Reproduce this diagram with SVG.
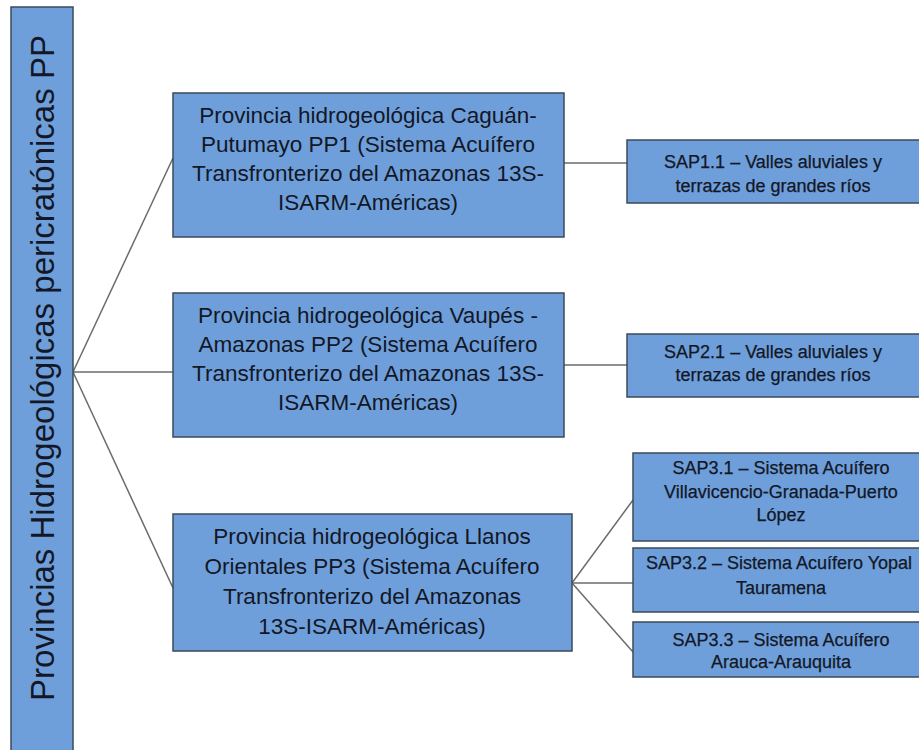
<svg xmlns="http://www.w3.org/2000/svg" width="919" height="750" viewBox="0 0 919 750">
<style>
.box{fill:#6e9fda;stroke:#3c4a5a;stroke-width:1.5}
.t{font-family:"Liberation Sans",Arial,sans-serif;fill:#131726;text-anchor:middle}
.pp{font-size:22.5px}
.sap{font-size:18px;stroke:#131726;stroke-width:0.25}
.root{font-size:33px}
.c{stroke:#6b6b6b;stroke-width:1.5;fill:none}
</style>
<rect width="919" height="750" fill="#ffffff"/>
<g id="connectors">
<line class="c" x1="73" y1="372" x2="173" y2="158"/>
<line class="c" x1="73" y1="372" x2="173" y2="372"/>
<line class="c" x1="73" y1="372" x2="173" y2="588"/>
<line class="c" x1="564" y1="163" x2="627" y2="163"/>
<line class="c" x1="564" y1="365" x2="627" y2="365"/>
<line class="c" x1="572" y1="583" x2="633" y2="500"/>
<line class="c" x1="572" y1="583" x2="633" y2="583"/>
<line class="c" x1="572" y1="583" x2="633" y2="652"/>
</g>
<g id="root">
<rect class="box" x="11" y="7" width="62" height="760"/>
<text class="t root" transform="translate(54,368) rotate(-90)">Provincias Hidrogeológicas pericratónicas PP</text>
</g>
<g id="pp1">
<rect class="box" x="173" y="93" width="391" height="144"/>
<text class="t pp"><tspan x="368" y="123">Provincia hidrogeológica Caguán-</tspan><tspan x="368" y="152">Putumayo PP1 (Sistema Acuífero</tspan><tspan x="368" y="181">Transfronterizo del Amazonas 13S-</tspan><tspan x="368" y="210">ISARM-Américas)</tspan></text>
</g>
<g id="pp2">
<rect class="box" x="173" y="293" width="391" height="144"/>
<text class="t pp"><tspan x="368" y="323">Provincia hidrogeológica Vaupés -</tspan><tspan x="368" y="352">Amazonas PP2 (Sistema Acuífero</tspan><tspan x="368" y="381">Transfronterizo del Amazonas 13S-</tspan><tspan x="368" y="410">ISARM-Américas)</tspan></text>
</g>
<g id="pp3">
<rect class="box" x="173" y="514" width="399" height="137"/>
<text class="t pp"><tspan x="372" y="544">Provincia hidrogeológica Llanos</tspan><tspan x="372" y="574">Orientales PP3 (Sistema Acuífero</tspan><tspan x="372" y="604">Transfronterizo del Amazonas</tspan><tspan x="372" y="634">13S-ISARM-Américas)</tspan></text>
</g>
<g id="sap11">
<rect class="box" x="627" y="140" width="300" height="63"/>
<text class="t sap"><tspan x="773" y="168">SAP1.1 – Valles aluviales y</tspan><tspan x="773" y="192">terrazas de grandes ríos</tspan></text>
</g>
<g id="sap21">
<rect class="box" x="627" y="334" width="300" height="63"/>
<text class="t sap"><tspan x="773" y="358">SAP2.1 – Valles aluviales y</tspan><tspan x="773" y="381">terrazas de grandes ríos</tspan></text>
</g>
<g id="sap31">
<rect class="box" x="633" y="453" width="300" height="88"/>
<text class="t sap"><tspan x="781" y="474">SAP3.1 – Sistema Acuífero</tspan><tspan x="781" y="498">Villavicencio-Granada-Puerto</tspan><tspan x="781" y="521">López</tspan></text>
</g>
<g id="sap32">
<rect class="box" x="633" y="548" width="300" height="64"/>
<text class="t sap"><tspan x="779" y="569">SAP3.2 – Sistema Acuífero Yopal</tspan><tspan x="781" y="594">Tauramena</tspan></text>
</g>
<g id="sap33">
<rect class="box" x="633" y="622" width="300" height="55"/>
<text class="t sap"><tspan x="781" y="646">SAP3.3 – Sistema Acuífero</tspan><tspan x="781" y="668">Arauca-Arauquita</tspan></text>
</g>
</svg>
